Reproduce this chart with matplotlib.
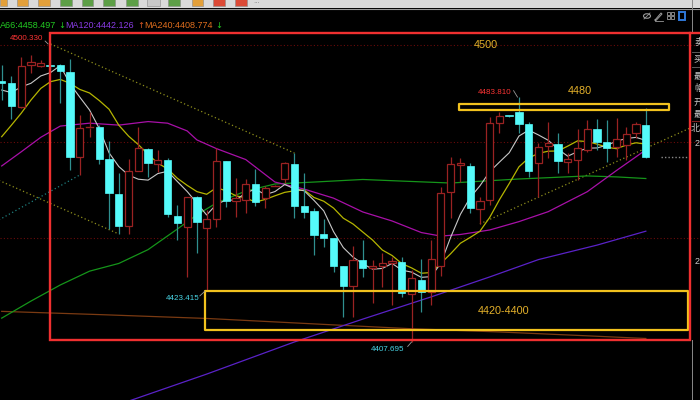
import matplotlib
matplotlib.use("Agg")
import matplotlib.pyplot as plt
from matplotlib.patches import Rectangle, Ellipse
import numpy as np
import pandas as pd

# ---------------- candle data (one bar per index) ----------------
opens = [4488.8, 4488.3, 4480.8, 4493.8, 4493.6, 4493.5, 4493.8, 4491.7, 4465.3, 4474.3,
         4474.4, 4464.5, 4453.8, 4443.8, 4460.9, 4467.6, 4463.0, 4464.3, 4446.8, 4443.3,
         4452.7, 4443.0, 4445.8, 4463.9, 4451.5, 4451.8, 4456.7, 4452.3, 4456.0, 4458.3,
         4462.9, 4450.0, 4448.4, 4441.2, 4439.9, 4431.2, 4425.2, 4433.2, 4430.6, 4431.4,
         4432.1, 4432.6, 4422.6, 4427.0, 4423.3, 4431.4, 4454.2, 4462.6, 4462.5, 4448.9,
         4451.8, 4475.7, 4477.9, 4479.1, 4475.3, 4463.2, 4468.6, 4469.2, 4463.6, 4464.3,
         4467.5, 4473.8, 4469.9, 4468.3, 4468.9, 4472.7, 4475.1]
highs = [4493.8, 4490.4, 4496.4, 4497.0, 4495.3, 4500.330, 4494.1, 4495.6, 4478.2, 4479.3,
         4475.1, 4470.2, 4460.1, 4464.5, 4474.4, 4468.0, 4467.4, 4464.9, 4450.3, 4452.9,
         4453.1, 4448.7, 4467.9, 4464.0, 4458.7, 4458.3, 4461.4, 4456.2, 4456.5, 4463.6,
         4466.4, 4460.1, 4449.2, 4445.8, 4440.0, 4431.3, 4437.5, 4439.4, 4433.2, 4435.25,
         4434.2, 4434.1, 4430.1, 4433.4, 4439.4, 4455.9, 4465.3, 4464.8, 4463.3, 4452.6,
         4477.5, 4479.1, 4478.0, 4483.810, 4476.2, 4469.5, 4476.2, 4472.6, 4466.4, 4474.0,
         4476.7, 4476.9, 4476.7, 4477.2, 4474.6, 4476.2, 4480.4]
lows = [4482.9, 4476.9, 4480.4, 4491.4, 4493.2, 4492.2, 4482.1, 4461.2, 4459.6, 4471.5,
        4463.0, 4442.8, 4441.25, 4441.2, 4460.8, 4459.1, 4460.6, 4446.6, 4439.4, 4427.8,
        4435.3, 4423.415, 4443.5, 4449.5, 4446.5, 4447.7, 4450.0, 4449.2, 4455.9, 4457.0,
        4446.1, 4446.2, 4434.7, 4437.1, 4429.4, 4415.5, 4415.5, 4428.0, 4419.7, 4424.9,
        4419.2, 4421.8, 4407.695, 4417.1, 4419.2, 4428.2, 4446.1, 4457.4, 4447.7, 4444.4,
        4450.3, 4472.6, 4477.6, 4472.6, 4459.1, 4452.7, 4464.8, 4460.1, 4460.2, 4458.0,
        4466.8, 4467.3, 4463.7, 4465.3, 4464.3, 4471.0, 4465.0]
closes = [4488.2, 4481.0, 4493.5, 4494.7, 4494.5, 4493.4, 4491.9, 4465.1, 4474.1, 4474.5,
          4464.6, 4454.1, 4443.8, 4460.8, 4468.1, 4463.2, 4464.3, 4447.4, 4444.8, 4452.7,
          4445.1, 4445.8, 4464.0, 4451.5, 4452.4, 4456.7, 4451.3, 4455.6, 4456.2, 4463.4,
          4450.0, 4448.1, 4440.8, 4439.9, 4431.2, 4425.2, 4433.2, 4430.6, 4431.4, 4432.3,
          4433.0, 4422.8, 4427.5, 4423.3, 4433.4, 4453.9, 4463.0, 4463.2, 4449.4, 4451.6,
          4475.9, 4477.9, 4477.7, 4475.4, 4460.8, 4468.4, 4469.6, 4463.9, 4464.5, 4467.9,
          4473.8, 4469.9, 4468.1, 4470.7, 4472.3, 4475.4, 4465.3]

# moving-average values for the first bars (history before the window)
ma5_head = [4486.0, 4485.2, 4487.0, 4488.1]
ma10_head = [4471.5, 4475.1, 4478.8, 4482.9, 4486.5, 4488.6, 4489.3, 4488.1, 4486.2]

# longer averages, sampled at bar indices
ma20_idx = [0, 2, 4, 6, 9, 12, 15, 17, 19, 20, 22, 25, 28, 31, 34, 37, 40, 43, 45, 47,
            50, 53, 56, 60, 63, 66]
ma20_val = [4462.4, 4466.8, 4471.3, 4474.8, 4475.7, 4475.1, 4476.2, 4475.7, 4473.3, 4470.5,
            4467.8, 4464.4, 4457.4, 4455.2, 4452.4, 4448.1, 4445.3, 4441.7, 4440.6, 4441.1,
            4442.5, 4445.1, 4448.2, 4454.4, 4461.0, 4467.4]
ma66_idx = [0, 3, 6, 9, 12, 15, 18, 20, 22, 25, 28, 32, 37, 41, 46, 53, 60, 63, 66]
ma66_val = [4415.1, 4420.4, 4425.4, 4429.7, 4432.1, 4436.4, 4442.8, 4447.2, 4450.9, 4454.6,
            4456.8, 4457.4, 4458.2, 4457.7, 4457.1, 4458.35, 4459.3, 4459.0, 4458.497]
ma120_idx = [13, 21, 30, 37, 44, 50, 55, 61, 66]
ma120_val = [4389.3, 4397.7, 4407.7, 4414.8, 4421.7, 4427.9, 4433.3, 4437.8, 4442.126]
ma240_idx = [0, 10, 21, 34, 42, 51, 60, 66]
ma240_val = [4417.2, 4416.2, 4415.0, 4413.0, 4411.8, 4410.8, 4409.6, 4408.774]

grid_levels = [4500, 4470, 4440]
level_4500 = 4500
zone_high = (4479.8, 4481.7)
zone_low = (4411.4, 4423.5)
zone_high_text = "4480"
zone_low_text = "4420-4400"
teal_start = 4445.6

n = len(closes)
idx = np.arange(n)
cl = pd.Series(closes)
ma5 = cl.rolling(5).mean().to_numpy()
ma5[:len(ma5_head)] = ma5_head
ma10 = cl.rolling(10).mean().to_numpy()
ma10[:len(ma10_head)] = ma10_head

# ---------------- figure ----------------
fig = plt.figure(figsize=(7, 4), dpi=100, facecolor="black")
ax = fig.add_axes([0, 0, 1, 1])
ax.set_facecolor("black")
ax.set_xlim(-0.174, 71.55)
ax.set_ylim(4389.65, 4513.99)
ax.axis("off")

NUM = "Liberation Sans"
UP = "#9a2222"
DOWN = "#55fafa"
DOWN_WICK = "#2f8f8f"

# dotted price grid
for g in grid_levels:
    ax.axhline(g, color="#6a0a0a", lw=0.8, ls=(0, (1, 2)), zorder=1)

# trend lines
olive = "#8f8f1c"
dot = (0, (1, 2))
slope_dn = (highs[30] - highs[5]) / (30 - 5)
ax.plot([5, 30], [highs[5], highs[30]], color=olive, lw=0.9, ls=dot, zorder=2)
ax.plot([-0.3, 12], [lows[12] - slope_dn * (12 + 0.3), lows[12]], color=olive, lw=0.9, ls=dot, zorder=2)
ax.plot([-0.3, 8], [teal_start, lows[8]], color="#1f8080", lw=0.9, ls=dot, zorder=2)
slope_up = (lows[55] - lows[49]) / (55 - 49)
ax.plot([49, 70.5], [lows[49], lows[49] + slope_up * (70.5 - 49)], color=olive, lw=0.9, ls=dot, zorder=2)
ax.plot([67.6, 70.5], [closes[-1], closes[-1]], color="#8a8a8a", lw=1.0, ls=(0, (1, 1.5)), zorder=2)

# moving averages
ax.plot(ma240_idx, ma240_val, color="#7a3a12", lw=0.9, zorder=3)
ax.plot(ma120_idx, ma120_val, color="#5a22c8", lw=0.9, zorder=3)
ax.plot(ma66_idx, ma66_val, color="#15951a", lw=0.9, zorder=3)
ax.plot(ma20_idx, ma20_val, color="#a810a8", lw=0.9, zorder=3)
ax.plot(idx, ma10, color="#b5b500", lw=0.9, zorder=3)
ax.plot(idx, ma5, color="#c8c8c8", lw=0.8, zorder=3)

# candles
w = 0.74
for i in range(n):
    o, h, l, c = opens[i], highs[i], lows[i], closes[i]
    if c >= o:
        lo_b, hi_b = o, c
        ax.plot([i, i], [l, lo_b], color=UP, lw=0.9, zorder=4, solid_capstyle="butt")
        ax.plot([i, i], [hi_b, h], color=UP, lw=0.9, zorder=4, solid_capstyle="butt")
        if hi_b - lo_b < 0.4:
            ax.plot([i - w / 2, i + w / 2], [(o + c) / 2] * 2, color=UP, lw=1.0, zorder=5)
        else:
            ax.add_patch(Rectangle((i - w / 2, lo_b), w, hi_b - lo_b, facecolor="black",
                                   edgecolor=UP, lw=0.9, zorder=5))
    else:
        ax.plot([i, i], [l, h], color=DOWN_WICK, lw=0.9, zorder=4, solid_capstyle="butt")
        if o - c < 0.4:
            ax.plot([i - w / 2, i + w / 2], [(o + c) / 2] * 2, color=DOWN, lw=1.2, zorder=5)
        else:
            ax.add_patch(Rectangle((i - w / 2, c), w, o - c, facecolor=DOWN,
                                   edgecolor=DOWN, lw=0.5, zorder=5))

# annotation zones
gold = "#f2c21e"
ax.add_patch(Rectangle((46.85, zone_high[0]), 68.37 - 46.85, zone_high[1] - zone_high[0],
                       fill=False, edgecolor=gold, lw=1.6, zorder=7, joinstyle="round"))
ax.add_patch(Rectangle((20.83, zone_low[0]), 70.3 - 20.83, zone_low[1] - zone_low[0],
                       fill=False, edgecolor=gold, lw=1.6, zorder=7, joinstyle="round"))
txt_gold = "#e5b12a"
ax.text(49.6, level_4500, str(level_4500), color=txt_gold, fontsize=7.8, family=NUM,
        ha="center", va="center", zorder=8)
ax.text(59.2, zone_high[1] + 4.0, zone_high_text, color=txt_gold, fontsize=7.8, family=NUM,
        ha="center", va="center", zorder=8)
ax.text(51.4, (zone_low[0] + zone_low[1]) / 2, zone_low_text, color=txt_gold, fontsize=7.8,
        family=NUM, ha="center", va="center", zorder=8)

# high / low markers
hi_i, lo_i = 5, 42
ax.text(2.55, highs[hi_i] + 1.8, f"{highs[hi_i]:.3f}", color="#ff3434", fontsize=5.8,
        family=NUM, ha="center", va="center", zorder=8)
ax.plot([4.45, 4.75], [highs[hi_i] + 0.9, highs[hi_i]], color="#9a9a9a", lw=0.6, zorder=8)
ax.text(50.55, highs[53] + 1.5, f"{highs[53]:.3f}", color="#ff3434", fontsize=5.8,
        family=NUM, ha="center", va="center", zorder=8)
ax.plot([52.45, 52.85], [highs[53] + 2.0, highs[53]], color="#9a9a9a", lw=0.6, zorder=8)
ax.text(18.5, lows[21] - 2.1, f"{lows[21]:.3f}", color="#49d6e6", fontsize=5.8,
        family=NUM, ha="center", va="center", zorder=8)
ax.plot([20.3, 20.8], [lows[21] - 1.4, lows[21]], color="#9a9a9a", lw=0.6, zorder=8)
ax.text(39.5, lows[lo_i] - 2.2, f"{lows[lo_i]:.3f}", color="#49d6e6", fontsize=5.8,
        family=NUM, ha="center", va="center", zorder=8)
ax.plot([41.6, 42.0], [lows[lo_i] - 1.4, lows[lo_i]], color="#9a9a9a", lw=0.6, zorder=8)

# ---------------- screen frame (pixel coordinates) ----------------
ov = fig.add_axes([0, 0, 1, 1])
ov.set_xlim(0, 700)
ov.set_ylim(400, 0)
ov.axis("off")
ov.patch.set_alpha(0)

# toolbar strip
ov.add_patch(Rectangle((0, 0), 700, 8, facecolor="#dadada", edgecolor="none", zorder=1))
ov.plot([0, 700], [8.6, 8.6], color="#9a9a9a", lw=0.8, zorder=1)
buttons = [(0, 7, "#e3a03a"), (17, 28, "#e3a03a"), (38, 50, "#e3a03a"),
           (60, 72, "#5d9f47"), (82, 93, "#5d9f47"), (103, 115, "#5d9f47"),
           (126, 138, "#5d9f47"), (147, 160, "#c9c9c9"), (168, 180, "#5d9f47"),
           (192, 203, "#e3a03a"), (213, 225, "#dc4a36"), (235, 247, "#dc4a36")]
for x0, x1, col in buttons:
    ov.add_patch(Rectangle((x0, -2), x1 - x0, 8, facecolor=col, edgecolor="#8a8a8a",
                           lw=0.4, zorder=2))
ov.text(257, 3, "···", color="#8a8a8a", fontsize=5, ha="center", va="center", zorder=2)

# tool icons
ov.add_patch(Ellipse((647, 16), 7, 4.5, fill=False, edgecolor="#9a9a9a", lw=0.8, zorder=3))
ov.plot([644, 650], [19, 13], color="#9a9a9a", lw=0.6, zorder=3)
ov.plot([655, 661, 662, 656, 655], [20, 13, 14, 20.5, 20], color="#9a9a9a", lw=0.7, zorder=3)
ov.plot([655, 663], [20.5, 20.5], color="#9a9a9a", lw=0.6, zorder=3)
for gx, gy in [(666.5, 12), (670.5, 12), (666.5, 16), (670.5, 16)]:
    ov.add_patch(Rectangle((gx, gy), 3, 3, fill=False, edgecolor="#9a9a9a", lw=0.6, zorder=3))
ov.add_patch(Rectangle((678.5, 11.5), 6.5, 8.5, fill=False, edgecolor="#2f78d8", lw=1.4, zorder=3))

# moving-average legend
leg_fs = 6.5
ov.text(0, 25, f"A66:{ma66_val[-1]:.3f}", color="#22cc22", fontsize=leg_fs, family=NUM,
        va="center", ha="left", zorder=3)
ov.text(62, 25, "↓", color="#22cc22", fontsize=6.0, family="DejaVu Sans",
        va="center", ha="center", zorder=3)
ov.text(65.5, 25, f"MA120:{ma120_val[-1]:.3f}", color="#8a3ce6", fontsize=leg_fs, family=NUM,
        va="center", ha="left", zorder=3)
ov.text(140.5, 25, "↑", color="#e05a26", fontsize=6.0, family="DejaVu Sans",
        va="center", ha="center", zorder=3)
ov.text(144, 25, f"MA240:{ma240_val[-1]:.3f}", color="#e06e1e", fontsize=leg_fs, family=NUM,
        va="center", ha="left", zorder=3)
ov.text(219, 25, "↓", color="#22cc22", fontsize=6.0, family="DejaVu Sans",
        va="center", ha="center", zorder=3)

# red frame around the chart
red = "#f03030"
ov.add_patch(Rectangle((50, 33), 640, 307, fill=False, edgecolor=red, lw=1.7, zorder=6))
ov.plot([690, 700], [33, 33], color=red, lw=1.7, zorder=6)

# quote panel at the right edge
ov.plot([691.5, 691.5], [0, 33], color="#8a8a8a", lw=0.7, zorder=5)
ov.plot([691.5, 691.5], [340, 400], color="#8a8a8a", lw=0.7, zorder=5)
ov.plot([692, 700], [52, 52], color="#6a6a6a", lw=0.6, zorder=5)
ov.plot([692, 700], [67, 67], color="#6a6a6a", lw=0.6, zorder=5)
ov.plot([692, 700], [121, 121], color="#7a2020", lw=0.8, zorder=5)
cjk = ["Noto Sans CJK SC", "DejaVu Sans"]
for ch, yy in [("卖", 42), ("买", 59), ("最", 76), ("幅", 89), ("开", 102), ("最", 115)]:
    ov.text(694, yy, ch, color="#c8c8c8", fontsize=6.5, family=cjk, va="center",
            ha="left", zorder=5)
ov.text(691, 129, "北", color="#c8c8c8", fontsize=6.5, family=cjk, va="center", ha="left", zorder=5)
ov.text(695, 143, "2", color="#c8c8c8", fontsize=6.5, family=NUM, va="center", ha="left", zorder=5)
ov.text(695, 262, "2", color="#c8c8c8", fontsize=6.5, family=NUM, va="center", ha="left", zorder=5)

fig.savefig("out.png", dpi=100, facecolor="black")
